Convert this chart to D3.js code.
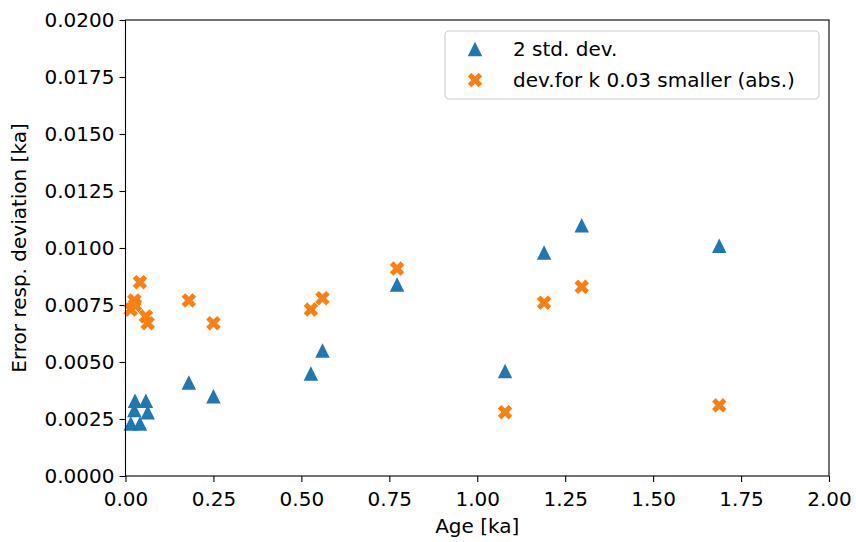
<!DOCTYPE html>
<html>
<head>
<meta charset="utf-8">
<script src="https://cdn.jsdelivr.net/npm/d3@7"></script>
<style>
  body { margin: 0; background: #fff; }
  svg text { font-family: "DejaVu Sans", sans-serif; fill: #000; }
</style>
</head>
<body>
<div id="chart"></div>
<script>
// data
const ages = [0.015, 0.025, 0.027, 0.041, 0.058, 0.063, 0.18, 0.25, 0.527, 0.56, 0.772, 1.079, 1.19, 1.297, 1.688];
const stdDev = [0.0023, 0.0029, 0.0033, 0.0023, 0.0033, 0.0028, 0.0041, 0.0035, 0.0045, 0.0055, 0.0084, 0.0046, 0.0098, 0.0110, 0.0101];
const kDev = [0.0073, 0.0077, 0.0075, 0.0085, 0.0070, 0.0067, 0.0077, 0.0067, 0.0073, 0.0078, 0.0091, 0.0028, 0.0076, 0.0083, 0.0031];
const xTicks = [0, 0.25, 0.5, 0.75, 1.0, 1.25, 1.5, 1.75, 2.0];
const yTicks = [0, 0.0025, 0.005, 0.0075, 0.01, 0.0125, 0.015, 0.0175, 0.02];
const seriesNames = ["2 std. dev.", "dev.for k 0.03 smaller (abs.)"];

const width = 856, height = 542;
const margin = { top: 20, right: 27, bottom: 66, left: 125.5 };
const innerWidth = width - margin.left - margin.right;
const innerHeight = height - margin.top - margin.bottom;

const svg = d3.select("#chart").append("svg")
    .attr("width", width)
    .attr("height", height);

const chart = svg.append("g")
    .attr("transform", `translate(${margin.left},${margin.top})`);

const x = d3.scaleLinear().domain([0, 2]).range([0, innerWidth]);
const y = d3.scaleLinear().domain([0, 0.02]).range([innerHeight, 0]);

// marker shapes (matplotlib '^' and 'X')
const ms = 14.5;
const triPath = `M0,${-ms / 2}L${-ms / 2},${ms / 2}L${ms / 2},${ms / 2}Z`;
const xPts = [[-1, -2], [0, -1], [1, -2], [2, -1], [1, 0], [2, 1], [1, 2], [0, 1], [-1, 2], [-2, 1], [-1, 0], [-2, -1]];
const xPath = "M" + xPts.map(p => `${p[0] * ms / 4},${p[1] * ms / 4}`).join("L") + "Z";

// axes
const xAxis = chart.append("g")
    .attr("transform", `translate(0,${innerHeight})`)
    .call(d3.axisBottom(x).tickValues(xTicks).tickFormat(d => d.toFixed(2)).tickSizeOuter(0).tickSize(6).tickPadding(5));
const yAxis = chart.append("g")
    .call(d3.axisLeft(y).tickValues(yTicks).tickFormat(d => d.toFixed(4)).tickSizeOuter(0).tickSize(6).tickPadding(5));

[xAxis, yAxis].forEach(a => {
    a.select(".domain").remove();
    a.selectAll(".tick line").attr("stroke", "#000").attr("stroke-width", 1.1);
    a.selectAll(".tick text").style("font-size", "20px").attr("fill", "#000");
});
xAxis.selectAll(".tick text").attr("dy", "0.95em");

// points
const blue = ages.map((a, i) => ({ x: a, y: stdDev[i] }));
const orange = ages.map((a, i) => ({ x: a, y: kDev[i] }));

chart.selectAll(".tri")
    .data(blue)
    .enter()
    .append("path")
    .attr("class", "tri")
    .attr("d", triPath)
    .attr("transform", d => `translate(${x(d.x)},${y(d.y)})`)
    .attr("fill", "#1f77b4");

chart.selectAll(".cross")
    .data(orange)
    .enter()
    .append("path")
    .attr("class", "cross")
    .attr("d", xPath)
    .attr("transform", d => `translate(${x(d.x)},${y(d.y)})`)
    .attr("fill", "#ff7f0e");

// frame
chart.append("rect")
    .attr("width", innerWidth)
    .attr("height", innerHeight)
    .attr("fill", "none")
    .attr("stroke", "#000")
    .attr("stroke-width", 1.1);

// axis labels
svg.append("text")
    .attr("x", margin.left + innerWidth / 2)
    .attr("y", 533)
    .attr("text-anchor", "middle")
    .style("font-size", "20px")
    .text("Age [ka]");

svg.append("text")
    .attr("transform", `translate(26,${margin.top + innerHeight / 2}) rotate(-90)`)
    .attr("text-anchor", "middle")
    .style("font-size", "20px")
    .text("Error resp. deviation [ka]");

// legend
const legend = svg.append("g");
legend.append("rect")
    .attr("x", 445).attr("y", 31)
    .attr("width", 374).attr("height", 68)
    .attr("rx", 4)
    .attr("fill", "#fff").attr("fill-opacity", 0.8)
    .attr("stroke", "#ccc").attr("stroke-width", 1.1);

const legendRows = [
    { name: seriesNames[0], path: triPath, color: "#1f77b4", cy: 49 },
    { name: seriesNames[1], path: xPath, color: "#ff7f0e", cy: 80 }
];
legendRows.forEach(r => {
    legend.append("path")
        .attr("d", r.path)
        .attr("transform", `translate(475,${r.cy})`)
        .attr("fill", r.color);
    legend.append("text")
        .attr("x", 513)
        .attr("y", r.cy + 7)
        .style("font-size", "20px")
        .text(r.name);
});
</script>
</body>
</html>
